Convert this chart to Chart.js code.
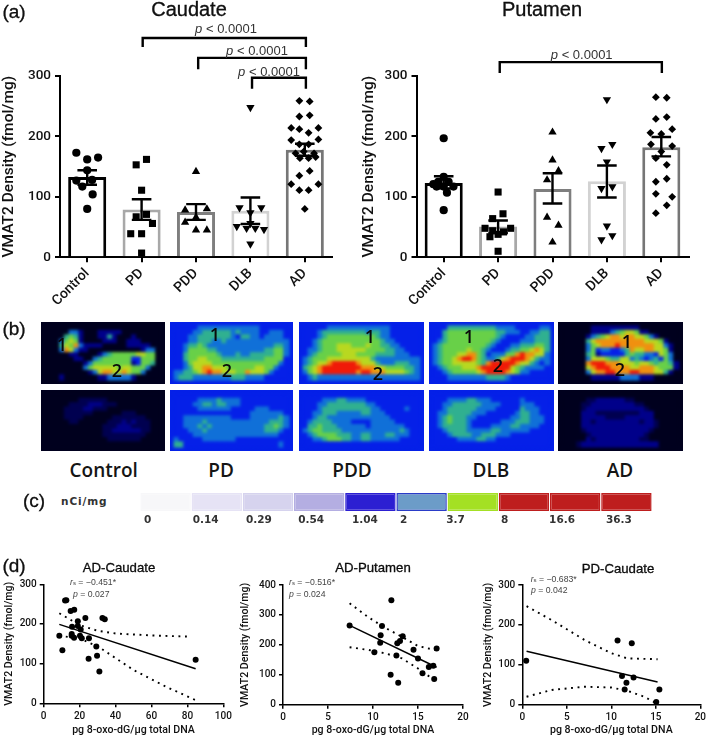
<!DOCTYPE html>
<html><head><meta charset="utf-8">
<script src="https://cdn.jsdelivr.net/npm/chart.js@4"></script>
<style>
html,body{margin:0;padding:0;background:#fff;overflow:hidden}
#page{position:relative;width:709px;height:739px;font-family:"Liberation Sans",Arial,sans-serif;color:#111}
#page canvas{position:absolute;display:block}
.t{position:absolute;white-space:nowrap;line-height:1}
.c{transform:translate(-50%,-50%)}
.l{transform:translateY(-50%)}
.h{position:absolute;overflow:hidden}
.h canvas{filter:blur(1.5px)}
sub{font-size:70%;vertical-align:-15%;line-height:0}
</style></head><body><div id="page"></div>
<script>
/* ---------- (a) shared ---------- */
const groups = ["Control","PD","PDD","DLB","AD"];
const barColors = ["#000000","#a8a8a8","#7e7e7e","#d2d2d2","#767676"];
const yTicksA = [0,100,200,300];

/* ---------- (a) Caudate ---------- */
const caudateMeans = [133,79,75,77,178];
const caudateLow   = [120,62,62,55,168];
const caudateHigh  = [144,96,88,99,188];
const caudateControlX = [-0.2,0,0.2,0,-0.2,-0.09,0.09,0.1,0];
const caudateControlY = [173,162,165,144,127,117,128,104,80];
const caudatePdX = [1.09,0.9,1,0.9,1.09,1.2,0.8,1,1];
const caudatePdY = [162,153,111,67,71,56,39,39,7];
const caudatePddX = [2,1.8,2.2,1.8,2,2.2,2];
const caudatePddY = [142,78,80,58,45,45,66];
const caudateDlbX = [3,2.8,3,3.2,2.75,2.93,3.09,3.25,3,3];
const caudateDlbY = [248,82,74,82,51,48,48,46,22,56];
const caudateAdX = [3.9,4.09,3.9,4.09,3.75,3.9,4.25,4.07,3.75,4.25,3.9,4.07,3.83,3.98,4.17,3.91,4.07,4.2,4.09,3.9,3.75,4.25,3.9,4.07,4];
const caudateAdY = [259,258,233,235,214,212,214,206,194,195,187,187,172,175,172,164,164,166,143,135,121,121,111,111,80];
const caudateBracketX = [[1.02,1.02,4.02,4.02],[2.04,2.04,4.02,4.02],[3.03,3.03,4.02,4.02]];
const caudateBracketY = [[348,363,363,348],[311,330,330,311],[279,297,297,279]];

/* ---------- (a) Putamen ---------- */
const putamenMeans = [123,51,113,126,182];
const putamenLow   = [114,40,89,99,167];
const putamenHigh  = [134,61,139,152,199];
const putamenControlX = [0,0,-0.19,-0.1,0.09,0.18,-0.13,0,0.06,0];
const putamenControlY = [197,133,121,125,125,117,117,117,107,78];
const putamenPdX = [1,1.09,0.9,0.76,1.23,0.9,1,0.85,1.1,1];
const putamenPdY = [108,72,64,48,48,44,38,34,42,10];
const putamenPddX = [2,2,2.11,1.9,1.9,2.11,2];
const putamenPddY = [207,161,143,128,66,53,25];
const putamenDlbX = [3,2.9,3.1,3,2.9,3.1,3,3.1,2.9];
const putamenDlbY = [261,180,187,158,114,117,52,36,29];
const putamenAdX = [3.9,4.1,3.9,4.1,4.2,3.8,4,3.81,4.2,4,3.9,4.1,3.9,4.1,3.9,4.2,4.1,3.9];
const putamenAdY = [265,264,229,232,212,206,204,187,184,175,164,153,125,130,105,100,86,73];
const putamenBracketX = [[1.03,1.03,4.01,4.01]];
const putamenBracketY = [[305,323,323,305]];

/* ---------- (b) autoradiograph levels, one digit per cell ---------- */
const heatColors = ["#00001e","#00008a","#0520e8","#1070d8","#30b090","#68d048","#b8d820","#f09010","#f01a08","#000050"];
const heatControlTop = ["000000000000000000000000","000003310001111100000000","000045410001141000100000","000356510000111001110000","000465731111000001111100","000376311000000000001330","000001100001345555566550","000000110034555555225550","000000001355555555125540","000000003566666566555300","000000000136776676553000","000100000001133333100000"];
const heatPdTop = ["222223333333333333222222","222233444444343333223332","222334444444324433233332","222334443343333333333333","223445433333333333333443","223555544333333333344553","224555555433343344444553","224556655544444444455552","223566665555555555555532","223466776665555556655322","334456787766655766653222","344433333333444333322222"];
const heatPddTop = ["222223333333333333222222","222344444444434433222222","222345555555555433222222","223455555555555543322222","223455566655565544332222","233455566666655554433222","234555556665555444433322","345556666666664333333333","345667888887666433344433","456788888888777665555443","356788888887887776666543","234333333333333333333333"];
const heatDlbTop = ["222444444444433332222233","224555555555544333223344","224555555555543222233444","234555555555432222333444","345555555554322233444554","345555565543222344556764","345556677542333557877663","345567887543346788876433","345566666547888887664323","234555666788888865433332","223455555678888765332222","222333333334444322222222"];
const heatAdTop = ["000000111111111100000000","000000111134566511000000","000001345677677665310000","000004677777777776665100","000003567778777777766310","000003523322347667766510","000004512222245443326530","000003666544663432342530","000007888777666566545541","000006788877776677765551","000003677887778877766410","000000111111333311100000"];
const heatControlBottom = ["000000000000000000000000","000000099999900000000000","000009999111999000000000","000099991199900000000000","000099999900000099900000","000099990000009999999000","000009900000099919199900","000000000000999111999900","000000000000991111119900","000000000000999999999000","000000000000099999990000","000000000000000000000000"];
const heatPdBottom = ["222222222222222222222222","222223333433332222222222","222233443443332222222222","222223333333222223332222","222222222222222233333332","223333333333222233333343","223333433333333333334443","223334343333333333344543","222333433333333333344432","222233333333333333333322","322222333333322222222222","442222222222222222222232"];
const heatPddBottom = ["222222222222222222222222","222233344333322222222222","222334444444433222222222","222344444444443322222322","223344433333443332222222","223443333333333333222222","234444333322223333322222","244544433333323333333222","345544443333333333334322","234555544433443334433322","223345554433443333332222","222222222222222222222222"];
const heatDlbBottom = ["222222222222222222222222","222333344333222222322222","223344444433332222333222","223444444333322222433322","233444443332222223443322","234544433222222233443332","234544432222223334443332","234444432222333344333322","223444433333443333332222","222344443344433322222222","222223333443322222222222","222222222222222222222222"];
const heatAdBottom = ["000000000000000000000000","000009911111199000000000","000099111111111990000000","000091111111111119000000","000011199999999911100000","000011111999911111100000","000011911111111191190000","000011111111111111190000","000091111111111111900000","000009111111111119000000","000001911111111199000000","000911111111111111110000"];

/* ---------- (c) scale bar ---------- */
const colorbarLabels = ["0","0.14","0.29","0.54","1.04","2","3.7","8","16.6","36.3"];
const colorbarValues = [1,1,1,1,1,1,1,1,1,1];
const colorbarFill = ["#f7f7f9","#e6e3f5","#d6d3ee","#b4aee2","#2c1fd2","#6c9cc8","#a4e024","#be1e1e","#be1e1e","#be1e1e"];
const colorbarTickAt = [0.08,1.03,2.07,3.09,4.14,5.08,5.98,7.05,7.99,9.1];

/* ---------- (d) correlations ---------- */
const adCaudateX = [8.7,10.4,11.9,12.6,15,17,19,15.8,19,20.6,15.6,15.6,16.9,20.2,21.2,23.2,25.2,25,29.3,29.7,31,32.7,34,84.6];
const adCaudateY = [170,134,259,260,233,236,207,193,195,186,175,170,165,170,164,215,164,112,143,120,80,215,212,110];
const adCaudateFitX = [8.7,84.6];
const adCaudateFitY = [199,87];
const adCaudateUpX = [8.7,20,30,40,60,82];
const adCaudateUpY = [227,197,183,176,171,168];
const adCaudateLoX = [8.7,20,31,50,68,84.6];
const adCaudateLoY = [170,164,141,84,42,8];

const adPutamenX = [7.4,12.04,11,10.85,10.8,10.15,13.3,13,12.7,14.5,12.6,15,17.07,11.96,12.8,15.5,16.2,16.7,16.8];
const adPutamenY = [265,349,263,232,207,175,229,213,205,184,164,154,188,100,73,105,126,130,86];
const adPutamenFitX = [7.4,17.07];
const adPutamenFitY = [265,125];
const adPutamenUpX = [7.4,9.5,11.3,13.2,15,16.9];
const adPutamenUpY = [339,292,258,227,196,183];
const adPutamenLoX = [7.4,9.5,11.3,13.2,15,17.07];
const adPutamenLoY = [192,183,172,155,121,77];

const pdCaudateX = [0.44,10.7,12.3,11.2,12.5,11.7,11.5,15.4,15.05];
const pdCaudateY = [110,161,154,72,68,55,38,38,7];
const pdCaudateFitX = [0.48,15.2];
const pdCaudateFitY = [134,57];
const pdCaudateUpX = [0.48,3.3,7,10,11.8,15.2];
const pdCaudateUpY = [247,212,162,129,116,114];
const pdCaudateLoX = [0.48,3.3,7,10,11.8,13.7,15.1];
const pdCaudateLoY = [20,37,45,43,35,20,3];

/* ---------- helpers ---------- */
Chart.defaults.animation = false;
Chart.defaults.font.family = 'Roboto,"Liberation Sans",Arial,sans-serif';
const page = document.getElementById("page");
const noPlugins = {legend:{display:false},tooltip:{enabled:false}};
const zip = (xs,ys) => xs.map((x,i)=>({x,y:ys[i]}));

function addCanvas(parent,L,T,W,H){
  const c = document.createElement("canvas");
  c.width = W; c.height = H;
  c.style.cssText = `left:${L}px;top:${T}px;width:${W}px;height:${H}px`;
  parent.appendChild(c);
  return c;
}
function text(html,x,y,style,left){
  const d = document.createElement("div");
  d.className = "t " + (left ? "l" : "c");
  d.style.cssText = `left:${x}px;top:${y}px;${style}`;
  d.innerHTML = html;
  page.appendChild(d);
}
/* builds a chart whose plot box sits on the given page rectangle */
function placed(box,plot,type,datasets,scales,labels){
  const c = addCanvas(page,box.l,box.t,box.r-box.l,box.b-box.t);
  scales.y.afterFit = s => { s.width = plot.l - box.l; };
  scales.x.afterFit = s => { s.height = box.b - plot.b; };
  return new Chart(c,{type,data:{labels,datasets},options:{
    responsive:false,
    layout:{padding:{top:plot.t-box.t,right:box.r-plot.r,left:0,bottom:0}},
    plugins:noPlugins,scales}});
}

function pointSet(xs,ys,style,radius,rotation){
  return {type:"scatter",xAxisID:"xp",yAxisID:"y",data:zip(xs,ys),order:2,clip:false,
    pointStyle:style,pointRadius:radius,pointRotation:rotation||0,
    pointBackgroundColor:"#000",pointBorderWidth:0};
}
function pathSet(xs,ys,width){
  return {type:"scatter",xAxisID:"xp",yAxisID:"y",data:zip(xs,ys),order:1,clip:false,
    showLine:true,borderColor:"#000",borderWidth:width,pointRadius:0,tension:0,
    borderJoinStyle:"miter",borderCapStyle:"butt"};
}
function errorSets(low,high){
  const cap = 0.18;
  return low.map((lo,i)=>pathSet(
    [i-cap,i+cap,i,i,i-cap,i+cap],
    [high[i],high[i],high[i],lo,lo,lo],2.4));
}
function barPanel(box,plot,means,low,high,marks,brX,brY){
  const datasets = [
    {type:"bar",xAxisID:"x",yAxisID:"y",data:means,order:3,grouped:false,
     categoryPercentage:1,barPercentage:0.7,
     backgroundColor:"#ffffff",borderColor:barColors,borderWidth:3},
    ...marks,
    ...errorSets(low,high),
    ...brX.map((xs,i)=>pathSet(xs,brY[i],2.4))
  ];
  const tickFont = {size:13.5,weight:"500"};
  placed(box,plot,"bar",datasets,{
    x:{type:"category",offset:true,
       grid:{offset:false,drawOnChartArea:false,color:"#000",lineWidth:2,tickLength:5},
       border:{color:"#000",width:2},
       ticks:{color:"#111",font:{size:14,weight:"500"},minRotation:45,maxRotation:45,padding:3,autoSkip:false}},
    xp:{type:"linear",offset:false,min:-0.5,max:4.5,display:false},
    y:{type:"linear",min:0,max:300,
       afterBuildTicks:s=>{s.ticks = yTicksA.map(value=>({value}));},
       grid:{drawOnChartArea:false,color:"#000",lineWidth:2,tickLength:5},
       border:{color:"#000",width:2},
       ticks:{color:"#111",font:tickFont,padding:4},
       title:{display:true,text:"VMAT2 Density (fmol/mg)",color:"#111",font:{size:15.5,weight:"500"},padding:0}}
  },groups);
}
function corrPanel(box,plot,xMax,xStep,yMax,yStep,xs,ys,fitX,fitY,upX,upY,loX,loY){
  const dots = {borderColor:"#000",borderWidth:1.9,borderDash:[1.9,4.6],pointRadius:0,showLine:true,tension:0,order:3,clip:false};
  const datasets = [
    {data:zip(xs,ys),pointRadius:3,pointBackgroundColor:"#000",pointBorderWidth:0,order:1,clip:false},
    {data:zip(fitX,fitY),showLine:true,borderColor:"#000",borderWidth:1.5,pointRadius:0,order:2},
    {data:zip(upX,upY),...dots},
    {data:zip(loX,loY),...dots}
  ];
  const axis = {grid:{drawOnChartArea:false,color:"#000",lineWidth:1.5,tickLength:4},border:{color:"#000",width:1.5}};
  placed(box,plot,"scatter",datasets,{
    x:{type:"linear",min:0,max:xMax,...axis,
       ticks:{stepSize:xStep,color:"#111",font:{size:10,weight:"500"},padding:3,maxRotation:0},
       title:{display:true,text:"pg 8-oxo-dG/\u00b5g total DNA",color:"#111",font:{size:10.6,weight:"500"},padding:0}},
    y:{type:"linear",min:0,max:yMax,...axis,
       ticks:{stepSize:yStep,color:"#111",font:{size:10,weight:"500"},padding:3},
       title:{display:true,text:"VMAT2 Density (fmol/mg)",color:"#111",font:{size:10.6,weight:"500"},padding:0}}
  });
}
function heatPanel(rows,bg,l,t,r,b){
  const w = r-l, h = b-t;
  const holder = document.createElement("div");
  holder.className = "h";
  holder.style.cssText = `left:${l}px;top:${t}px;width:${w}px;height:${h}px;background:${bg}`;
  page.appendChild(holder);
  const c = addCanvas(holder,0,0,w,h);
  const cols = rows[0].length, pts = [], colors = [];
  rows.forEach((row,j)=>[...row].forEach((ch,i)=>{pts.push({x:i,y:j});colors.push(heatColors[+ch]);}));
  const side = Math.max(w/cols,h/rows.length)+1;
  new Chart(c,{type:"scatter",data:{datasets:[{data:pts,pointStyle:"rect",pointRadius:side/2*Math.SQRT2,
      pointBackgroundColor:colors,pointBorderWidth:0,clip:false}]},
    options:{responsive:false,plugins:noPlugins,layout:{padding:0},
      scales:{x:{display:false,min:-0.5,max:cols-0.5},y:{display:false,reverse:true,min:-0.5,max:rows.length-0.5}}}});
}

/* ---------- draw (a) ---------- */
barPanel({l:0,t:0,r:345,b:320},{l:60,t:76,r:332,b:257.3},caudateMeans,caudateLow,caudateHigh,[
  pointSet(caudateControlX,caudateControlY,"circle",4.1),
  pointSet(caudatePdX,caudatePdY,"rect",5),
  pointSet(caudatePddX,caudatePddY,"triangle",4.8),
  pointSet(caudateDlbX,caudateDlbY,"triangle",4.8,180),
  pointSet(caudateAdX,caudateAdY,"rectRot",3.9)
],caudateBracketX,caudateBracketY);
barPanel({l:360,t:0,r:705,b:320},{l:416.5,t:76,r:688.5,b:257.3},putamenMeans,putamenLow,putamenHigh,[
  pointSet(putamenControlX,putamenControlY,"circle",4.1),
  pointSet(putamenPdX,putamenPdY,"rect",5),
  pointSet(putamenPddX,putamenPddY,"triangle",4.8),
  pointSet(putamenDlbX,putamenDlbY,"triangle",4.8,180),
  pointSet(putamenAdX,putamenAdY,"rectRot",3.9)
],putamenBracketX,putamenBracketY);

/* ---------- draw (b) ---------- */
const topY=[322.3,384.3], botY=[389.7,451];
const panelX=[[40.7,164.7],[169.7,293.3],[299.3,424.3],[429.3,553.7],[558,683]];
const tops=[heatControlTop,heatPdTop,heatPddTop,heatDlbTop,heatAdTop];
const bots=[heatControlBottom,heatPdBottom,heatPddBottom,heatDlbBottom,heatAdBottom];
const backs=["#00001e","#0520e8","#0520e8","#0520e8","#00001e"];
panelX.forEach((p,i)=>{
  heatPanel(tops[i],backs[i],p[0],topY[0],p[1],topY[1]);
  heatPanel(bots[i],backs[i],p[0],botY[0],p[1],botY[1]);
});

/* ---------- draw (c) ---------- */
{
  const c = addCanvas(page,130,485,530,45);
  new Chart(c,{type:"bar",data:{labels:colorbarLabels,datasets:[{xAxisID:"x",yAxisID:"y",data:colorbarValues,
      backgroundColor:colorbarFill,categoryPercentage:1,barPercentage:0.985,
      borderColor:["#f7f7f9","#e6e3f5","#d6d3ee","#b4aee2","#2c1fd2","#2a3cc8","#a4e024","#be1e1e","#be1e1e","#be1e1e"],borderWidth:1.5,borderSkipped:false}]},
    options:{responsive:false,plugins:noPlugins,layout:{padding:{left:10,right:8,top:8,bottom:0}},
      scales:{
        x:{type:"category",display:false,offset:true},
        t:{type:"linear",offset:false,position:"bottom",min:0,max:10,
           afterBuildTicks:s=>{s.ticks=colorbarTickAt.map(value=>({value}));},
           afterFit:s=>{s.height=19;},
           grid:{display:false,drawTicks:false},border:{display:false},
           ticks:{align:"start",autoSkip:false,maxRotation:0,padding:3,color:"#333",
                  font:{family:'"DejaVu Sans"',size:10.5,weight:"bold"},
                  callback:(v,i)=>colorbarLabels[i]}},
        y:{display:false,min:0,max:1}}}});
}

/* ---------- draw (d) ---------- */
corrPanel({l:3,t:570,r:236,b:737},{l:43.7,t:584.3,r:223.3,b:703.3},100,20,300,100,adCaudateX,adCaudateY,adCaudateFitX,adCaudateFitY,adCaudateUpX,adCaudateUpY,adCaudateLoX,adCaudateLoY);
corrPanel({l:239,t:570,r:476,b:737},{l:283,t:585,r:463,b:704.7},20,5,400,100,adPutamenX,adPutamenY,adPutamenFitX,adPutamenFitY,adPutamenUpX,adPutamenUpY,adPutamenLoX,adPutamenLoY);
corrPanel({l:482,t:570,r:709,b:737},{l:522.3,t:585,r:703,b:704.7},20,5,300,100,pdCaudateX,pdCaudateY,pdCaudateFitX,pdCaudateFitY,pdCaudateUpX,pdCaudateUpY,pdCaudateLoX,pdCaudateLoY);

/* ---------- text ---------- */
const thick = "-webkit-text-stroke:0.3px #000;";
const pv = 'font-size:13px;color:#333;';
const pText = "<i>p</i> &lt; 0.0001";
text("(a)",14,11,"font-size:19px;"+thick);
text("Caudate",189,9,"font-size:20px;"+thick);
text("Putamen",542,9,"font-size:20px;"+thick);
text(pText,226,28,pv);
text(pText,257,50,pv);
text(pText,269,71,pv);
text(pText,581.7,54,pv);
text("(b)",14,328,"font-size:19px;"+thick);
text("(c)",34,500,"font-size:19px;"+thick);
text("(d)",14,565,"font-size:19px;"+thick);
text("nCi/mg",61,501,'font-family:"DejaVu Sans";font-size:10.5px;font-weight:bold;letter-spacing:0.9px;color:#333;',true);
const sectionFont = 'font-family:"Open Sans";font-weight:600;font-size:19px;color:#151515;';
[["Control",103.7],["PD",221],["PDD",352],["DLB",491],["AD",620]].forEach(a=>text(a[0],a[1],469.7,sectionFont));
const numFont = 'font-family:"Open Sans";font-weight:600;font-size:18px;color:#0a0a0a;';
[["1",62,344],["2",117,370],["1",215,334],["2",227,370],["1",370,336],["2",378,373],["1",469,336],["2",498,365],["1",627,341],["2",620,369]]
  .forEach(a=>text(a[0],a[1],a[2],numFont));
text("AD-Caudate",119,568,"font-size:13.2px;"+thick);
text("AD-Putamen",373,568,"font-size:13.2px;"+thick);
text("PD-Caudate",618,569,"font-size:13.2px;"+thick);
const rs = "font-size:8.7px;color:#444;";
text("<i>r</i><sub>s</sub> = \u22120.451*",70,582,rs,true);
text("<i>p</i> = 0.027",73,594,rs,true);
text("<i>r</i><sub>s</sub> = \u22120.516*",289,582,rs,true);
text("<i>p</i> = 0.024",289,594,rs,true);
text("<i>r</i><sub>s</sub> = \u22120.683*",530.7,579,rs,true);
text("<i>p</i> = 0.042",531,590,rs,true);
</script></body></html>
